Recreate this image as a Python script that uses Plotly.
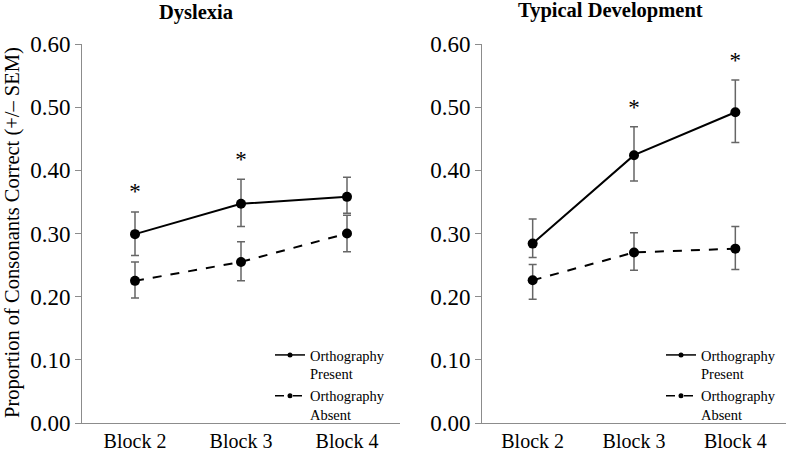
import plotly.graph_objects as go

blocks = ["Block 2", "Block 3", "Block 4"]

# Dyslexia
dys_present = [0.299, 0.347, 0.358]
dys_present_up = [0.035, 0.039, 0.031]
dys_present_dn = [0.034, 0.036, 0.026]
dys_absent = [0.225, 0.255, 0.300]
dys_absent_up = [0.030, 0.032, 0.029]
dys_absent_dn = [0.027, 0.030, 0.029]
dys_sig_blocks = ["Block 2", "Block 3"]
dys_sig_y = [0.363, 0.414]

# Typical development
td_present = [0.284, 0.424, 0.492]
td_present_up = [0.039, 0.045, 0.051]
td_present_dn = [0.022, 0.041, 0.048]
td_absent = [0.226, 0.270, 0.276]
td_absent_up = [0.025, 0.031, 0.035]
td_absent_dn = [0.030, 0.028, 0.033]
td_sig_blocks = ["Block 3", "Block 4"]
td_sig_y = [0.497, 0.571]

series_names = ["Orthography<br>Present", "Orthography<br>Absent"]

FONT = "Liberation Serif"
ERR = "#666666"
AX = "#8c8c8c"

fig = go.Figure()

def add_panel(xa, ya, leg, pres, pu, pd, absn, au, ad, sb, sy):
    for vals, up, dn, dash, name in [(pres, pu, pd, "solid", series_names[0]),
                                     (absn, au, ad, "dash", series_names[1])]:
        fig.add_trace(go.Scatter(
            x=blocks, y=vals, xaxis=xa, yaxis=ya, showlegend=False,
            name=name, mode="lines+markers",
            line=dict(color="black", width=2, dash=dash),
            marker=dict(color="black", size=10),
            error_y=dict(type="data", symmetric=False, array=up, arrayminus=dn,
                         color=ERR, thickness=1.5, width=4),
        ))
        # legend entry (smaller marker, as in the reference key)
        fig.add_trace(go.Scatter(
            x=[None], y=[None], xaxis=xa, yaxis=ya, legend=leg, showlegend=True,
            name=name, mode="lines+markers",
            line=dict(color="black", width=1.5, dash=dash),
            marker=dict(color="black", size=5),
        ))
    fig.add_trace(go.Scatter(
        x=sb, y=sy, xaxis=xa, yaxis=ya, mode="text", text=["*"] * len(sb),
        textfont=dict(family=FONT, size=23, color="black"),
        showlegend=False, hoverinfo="skip",
    ))

add_panel("x", "y", "legend", dys_present, dys_present_up, dys_present_dn,
          dys_absent, dys_absent_up, dys_absent_dn, dys_sig_blocks, dys_sig_y)
add_panel("x2", "y2", "legend2", td_present, td_present_up, td_present_dn,
          td_absent, td_absent_up, td_absent_dn, td_sig_blocks, td_sig_y)

W, H = 787, 452
ydom = [1 - 423 / H, 1 - 44 / H]
xaxis_common = dict(
    type="category", range=[-0.5, 2.5], showline=True, linecolor=AX, linewidth=1,
    showgrid=False, zeroline=False, ticks="", automargin=False,
    tickfont=dict(family=FONT, size=20, color="black"),
)
yaxis_common = dict(
    range=[0, 0.6], tickvals=[0, 0.1, 0.2, 0.3, 0.4, 0.5, 0.6], tickformat=".2f",
    showline=True, linecolor=AX, linewidth=1, showgrid=False, zeroline=False,
    ticks="outside", ticklen=6, tickcolor=AX, automargin=False,
    tickfont=dict(family=FONT, size=23, color="black"),
)

legend_common = dict(
    bgcolor="rgba(0,0,0,0)", font=dict(family=FONT, size=14.5, color="black"),
    valign="top", xanchor="left", yanchor="top",
)

fig.update_layout(
    template="none",
    width=W, height=H, margin=dict(l=0, r=0, t=0, b=0, autoexpand=False),
    paper_bgcolor="white", plot_bgcolor="white",
    xaxis=dict(domain=[82 / W, 400 / W], anchor="y", **xaxis_common),
    yaxis=dict(domain=ydom, anchor="x", **yaxis_common),
    xaxis2=dict(domain=[482 / W, 786 / W], anchor="y2", **xaxis_common),
    yaxis2=dict(domain=ydom, anchor="x2", **yaxis_common),
    legend=dict(x=270 / W, y=1 - 339 / H, **legend_common),
    legend2=dict(x=661 / W, y=1 - 339 / H, **legend_common),
    annotations=[
        dict(text="<b>Dyslexia</b>", x=196 / W, y=1 - 12 / H, xref="paper", yref="paper",
             xanchor="center", yanchor="middle",
             showarrow=False, font=dict(family=FONT, size=20.5, color="black")),
        dict(text="<b>Typical Development</b>", x=610 / W, y=1 - 11 / H, xref="paper", yref="paper",
             xanchor="center", yanchor="middle",
             showarrow=False, font=dict(family=FONT, size=20.5, color="black")),
        dict(text="Proportion of Consonants Correct (+/\u2013 SEM)", x=12 / W, y=1 - 233 / H,
             xref="paper", yref="paper", textangle=-90, showarrow=False,
             xanchor="center", yanchor="middle",
             font=dict(family=FONT, size=20.5, color="black")),
    ],
)

fig.write_html("out.html", config={"displayModeBar": False},
               post_script="document.body.style.margin='0';")
